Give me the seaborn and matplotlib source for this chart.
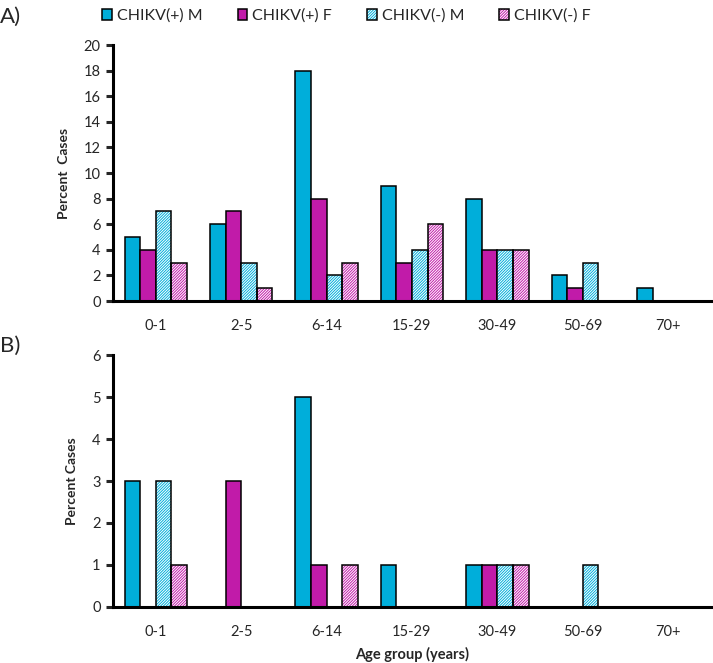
# Age distribution of CHIKV(+) / CHIKV(-) cases by sex, two panels (A, B)
import numpy as np
import pandas as pd
import matplotlib
matplotlib.use('Agg')
import matplotlib.pyplot as plt
from matplotlib.patches import Patch, Rectangle
import seaborn as sns

# ── Data ──────────────────────────────────────────────────────
AGE_GROUPS = ["0-1", "2-5", "6-14", "15-29", "30-49", "50-69", "70+"]
SERIES     = ["CHIKV(+) M", "CHIKV(+) F", "CHIKV(-) M", "CHIKV(-) F"]

# panel A
A_POS_M = [5, 6, 18, 9, 8, 2, 1]
A_POS_F = [4, 7, 8, 3, 4, 1, 0]
A_NEG_M = [7, 3, 2, 4, 4, 3, 0]
A_NEG_F = [3, 1, 3, 6, 4, 0, 0]

# panel B
B_POS_M = [3, 0, 5, 1, 1, 0, 0]
B_POS_F = [0, 3, 1, 0, 1, 0, 0]
B_NEG_M = [3, 0, 0, 0, 1, 1, 0]
B_NEG_F = [1, 0, 1, 0, 1, 0, 0]

A_YTICKS = list(range(0, 21, 2))
B_YTICKS = list(range(0, 7, 1))

# ── Style ─────────────────────────────────────────────────────
CYAN    = "#00AEDA"
MAGENTA = "#C11BA9"
COLORS  = [CYAN, MAGENTA, CYAN, MAGENTA]
HATCHED = [False, False, True, True]
HATCH   = "/" * 12

sns.set_style("white")
plt.rcParams['font.family'] = ['Lato', 'DejaVu Sans']
plt.rcParams['hatch.linewidth'] = 0.7


def long_frame(columns):
    rows = []
    for s, vals in zip(SERIES, columns):
        for g, v in zip(AGE_GROUPS, vals):
            rows.append({"age": g, "series": s, "pct": v})
    return pd.DataFrame(rows)


def draw_panel(ax, df, yticks, ylabel):
    sns.barplot(data=df, x="age", y="pct", hue="series", order=AGE_GROUPS,
                hue_order=SERIES, palette=COLORS, width=0.73, gap=0,
                edgecolor="black", linewidth=1.1, saturation=1, legend=False,
                ax=ax)
    # bars come in hue order: all series 0 bars, then series 1 ...
    n = len(AGE_GROUPS)
    for k, bar in enumerate(ax.patches[:n * len(SERIES)]):
        si = k // n
        if HATCHED[si]:
            col = COLORS[si]
            bar.set_facecolor("white")
            bar.set_edgecolor(col)
            bar.set_hatch(HATCH)
            bar.set_linewidth(0)
            ax.add_patch(Rectangle(bar.get_xy(), bar.get_width(), bar.get_height(),
                                   fill=False, edgecolor="black", linewidth=1.1,
                                   zorder=bar.get_zorder() + 0.1))

    ax.set_xlim(-0.5, n - 0.5)
    ax.set_ylim(yticks[0], yticks[-1])
    ax.set_yticks(yticks)
    ax.set_yticklabels([str(t) for t in yticks], fontsize=10.5)
    ax.set_xticks(np.arange(-0.5, n, 1))
    ax.set_xticklabels([])
    ax.set_xticks(range(n), minor=True)
    ax.set_xticklabels(AGE_GROUPS, minor=True, fontsize=10.5)
    ax.tick_params(axis='x', which='major', direction='out', length=5, width=2.2)
    ax.tick_params(axis='x', which='minor', length=0, pad=13)
    ax.tick_params(axis='y', direction='out', length=5, width=2.2, pad=4, left=True)
    for side in ("top", "right"):
        ax.spines[side].set_visible(False)
    for side in ("left", "bottom"):
        ax.spines[side].set_linewidth(2.2)
        ax.spines[side].set_color("black")
    ax.set_ylabel(ylabel, fontsize=10, fontweight='bold', labelpad=10)
    ax.set_xlabel("")


fig = plt.figure(figsize=(7.13, 6.63), dpi=100)
ax_a = fig.add_axes([0.1585, 0.546, 0.8385, 0.386])
ax_b = fig.add_axes([0.1585, 0.0845, 0.8385, 0.380])

draw_panel(ax_a, long_frame([A_POS_M, A_POS_F, A_NEG_M, A_NEG_F]), A_YTICKS, "Percent  Cases")
draw_panel(ax_b, long_frame([B_POS_M, B_POS_F, B_NEG_M, B_NEG_F]), B_YTICKS, "Percent Cases")
ax_b.set_xlabel("Age group (years)", fontsize=10.5, fontweight='bold', labelpad=6)

fig.text(0.0, 0.975, "A)", fontsize=16, va='center', ha='left')
fig.text(0.0, 0.478, "B)", fontsize=16, va='center', ha='left')

handles = []
for s, c, h in zip(SERIES, COLORS, HATCHED):
    if h:
        handles.append((Patch(facecolor="white", edgecolor=c, hatch=HATCH, linewidth=0),
                        Patch(fill=False, edgecolor="black", linewidth=1.1)))
    else:
        handles.append(Patch(facecolor=c, edgecolor="black", linewidth=1.1))
fig.legend(handles=handles, labels=SERIES, loc='center left',
           bbox_to_anchor=(0.123, 0.976), ncol=4, frameon=False, fontsize=11.5,
           handlelength=0.62, handleheight=0.62, handletextpad=0.3,
           columnspacing=2.2)

fig.savefig("out.png", dpi=100)
